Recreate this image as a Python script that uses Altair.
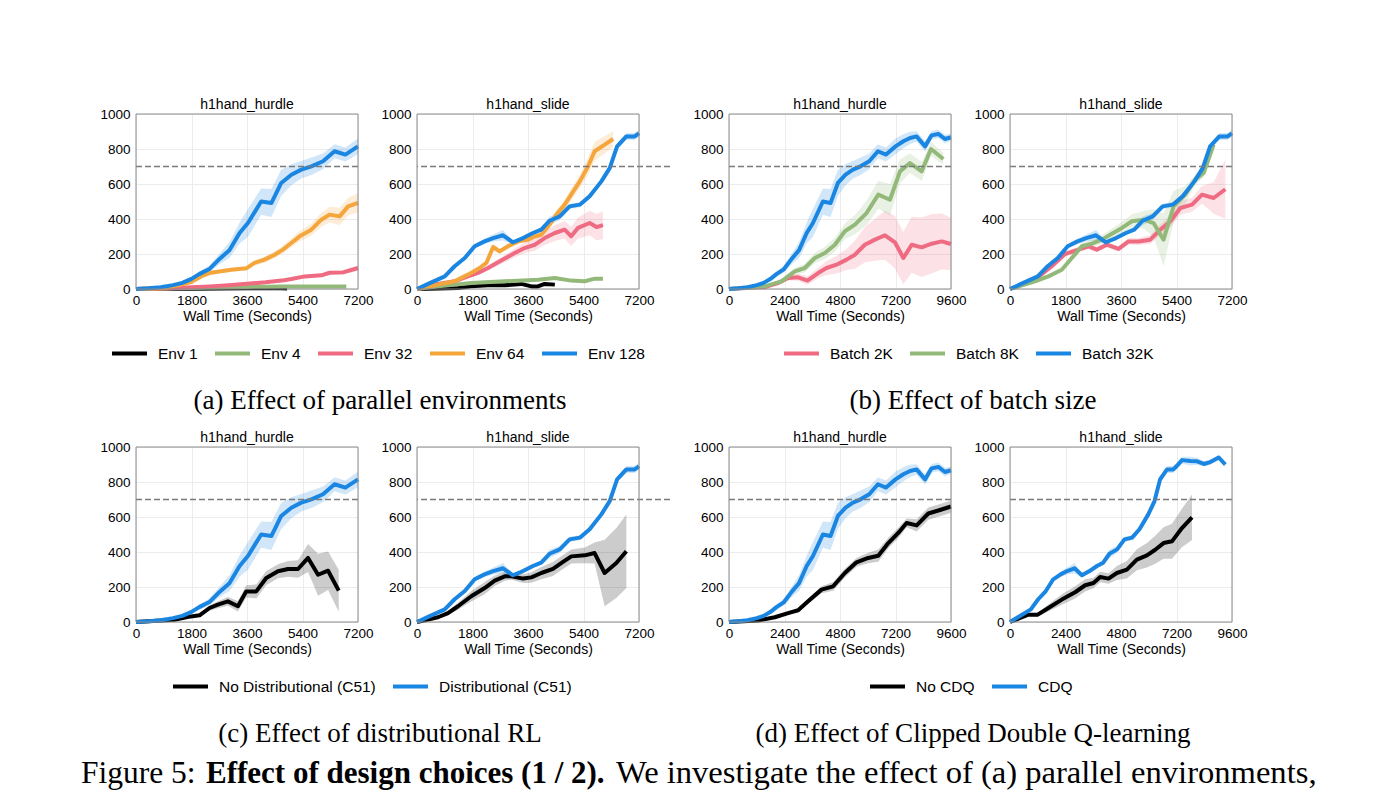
import altair as alt
import pandas as pd

SANS = "Liberation Sans"
SERIF = "Liberation Serif"

BLACK = "#000000"
GREEN = "#92b97a"
PINK = "#ee6b81"
ORANGE = "#f4a63d"
BLUE = "#1a86e2"
FRAME = "#8a8a8a"

# ---- h1hand_hurdle, default run (Env 128 / Batch 32K / Distributional / CDQ)
HURDLE_BASE_X = [0, 400, 800, 1200, 1500, 1800, 2050, 2380, 2710, 3030, 3360, 3630, 4060, 4390, 4710,
                 5040, 5360, 5690, 6065, 6440, 6790, 7200, 7540, 7830, 8110, 8480, 8760, 9050, 9340, 9600]
HURDLE_BASE_Y = [0, 4, 10, 22, 35, 58, 85, 114, 172, 222, 320, 377, 500, 491, 606,
                 653, 682, 701, 730, 787, 768, 815, 844, 863, 872, 815, 878, 886, 857, 867]
HURDLE_BASE_HW = [0, 1, 2, 4, 6, 10, 15, 20, 30, 45, 60, 80, 75, 80, 75,
                  60, 50, 50, 45, 40, 40, 45, 40, 35, 30, 30, 25, 25, 25, 20]

# ---- h1hand_slide, default run
SLIDE_BASE_X = [0, 360, 900, 1220, 1550, 1870, 2190, 2470, 2790, 3110, 3440, 3760, 4030, 4300, 4630, 4950,
                5280, 5600, 5980, 6250, 6490, 6790, 7060, 7200, 7440, 7800, 8090, 8380, 8660, 9030, 9310]
SLIDE_BASE_Y = [0, 29, 72, 130, 177, 244, 272, 291, 307, 267, 291, 320, 339, 390, 415, 472,
                482, 530, 615, 691, 815, 872, 872, 890, 925, 920, 918, 903, 914, 940, 900]
SLIDE_BASE_HW = [0, 5, 8, 10, 10, 12, 15, 20, 30, 10, 10, 12, 12, 25, 20, 15,
                 15, 15, 15, 15, 15, 20, 20, 20, 20, 25, 20, 15, 15, 15, 15]

# ---- (a) parallel environments
ENV64_HURDLE_X = [0, 920, 1460, 1790, 2110, 2380, 2760, 3090, 3575, 3845, 4170, 4495, 4765, 5036, 5307,
                  5686, 6010, 6280, 6605, 6880, 7200]
ENV64_HURDLE_Y = [0, 6, 25, 40, 72, 91, 101, 110, 118, 149, 168, 196, 225, 263, 301,
                  339, 396, 425, 415, 472, 492]
ENV64_HURDLE_HW = [0, 2, 4, 5, 8, 10, 10, 12, 12, 15, 18, 20, 22, 25, 30, 35, 40, 45, 50, 50, 55]

ENV32_HURDLE_X = [0, 900, 1800, 2400, 3000, 3600, 4200, 4800, 5040, 5470, 6010, 6280, 6715, 7200]
ENV32_HURDLE_Y = [0, 3, 10, 15, 22, 30, 38, 50, 57, 72, 78, 93, 95, 120]
ENV32_HURDLE_HW = [0, 2, 3, 4, 5, 6, 7, 8, 8, 9, 10, 12, 12, 15]

ENV4_HURDLE_X = [0, 600, 1200, 1800, 2400, 3000, 3600, 4200, 4800, 5400, 6000, 6600, 6820]
ENV4_HURDLE_Y = [0, 2, 4, 6, 8, 10, 12, 13, 14, 14, 14, 14, 14]
ENV4_HURDLE_HW = [0, 1, 2, 2, 3, 3, 4, 4, 4, 4, 4, 4, 4]

ENV1_HURDLE_X = [0, 900, 1800, 2700, 3600, 4500, 4900]
ENV1_HURDLE_Y = [0, 1, 2, 3, 4, 5, 3]
ENV1_HURDLE_HW = [0, 1, 1, 1, 1, 1, 1]

ENV64_SLIDE_X = [0, 680, 1220, 1650, 2030, 2250, 2470, 2680, 2950, 3280, 3600, 3820, 4030, 4300, 4520,
                 4790, 5000, 5280, 5550, 5760, 6090, 6360]
ENV64_SLIDE_Y = [0, 25, 44, 82, 120, 149, 240, 215, 244, 272, 282, 301, 310, 368, 425,
                 482, 539, 615, 701, 787, 825, 857]
ENV64_SLIDE_HW = [0, 5, 8, 10, 12, 15, 20, 15, 15, 15, 15, 15, 15, 20, 25, 30, 35, 40, 50, 55, 50, 45]

ENV32_SLIDE_X = [0, 680, 1220, 1650, 1980, 2300, 2790, 3170, 3490, 3820, 4140, 4470, 4790, 5000, 5220,
                 5600, 5820, 6030]
ENV32_SLIDE_Y = [0, 29, 44, 72, 92, 120, 168, 206, 234, 253, 291, 320, 339, 301, 349, 377, 354, 365]
ENV32_SLIDE_HW = [0, 5, 8, 10, 12, 15, 20, 25, 30, 35, 40, 45, 50, 55, 60, 70, 75, 80]

ENV4_SLIDE_X = [0, 680, 1760, 2840, 3920, 4470, 5000, 5440, 5760, 6030]
ENV4_SLIDE_Y = [0, 15, 34, 44, 53, 63, 48, 44, 59, 59]
ENV4_SLIDE_HW = [0, 4, 5, 6, 6, 7, 7, 7, 8, 8]

ENV1_SLIDE_X = [0, 700, 1330, 1760, 2300, 2840, 3380, 3710, 3920, 4140, 4470]
ENV1_SLIDE_Y = [0, 3, 6, 15, 21, 21, 29, 15, 15, 29, 25]
ENV1_SLIDE_HW = [0, 2, 3, 4, 4, 4, 5, 5, 5, 5, 5]

# ---- (b) batch size
B8K_HURDLE_X = [0, 1545, 2270, 2845, 3280, 3710, 4145, 4580, 5010, 5445, 5950, 6455, 6960, 7395, 7825,
                8330, 8735, 9270]
B8K_HURDLE_Y = [0, 15, 44, 101, 120, 177, 206, 253, 330, 368, 434, 539, 510, 672, 720, 672, 800, 743]
B8K_HURDLE_HW = [0, 5, 15, 20, 25, 30, 35, 40, 45, 55, 70, 80, 90, 70, 55, 55, 40, 35]

B2K_HURDLE_X = [0, 1545, 2125, 2555, 2990, 3395, 3855, 4215, 4650, 5085, 5445, 5875, 6310, 6745, 7175,
                7540, 7900, 8330, 8765, 9200, 9600]
B2K_HURDLE_Y = [0, 11, 34, 63, 67, 48, 91, 120, 139, 168, 196, 253, 282, 307, 267, 177, 253, 238, 259,
                272, 257]
B2K_HURDLE_HW = [0, 5, 10, 15, 20, 25, 30, 40, 50, 60, 80, 100, 120, 140, 150, 150, 160, 170, 170, 160, 150]

B8K_SLIDE_X = [0, 810, 1245, 1680, 2005, 2330, 2655, 2980, 3305, 3630, 3955, 4330, 4655, 4980, 5305,
               5685, 6010, 6280, 6605]
B8K_SLIDE_Y = [0, 44, 72, 110, 177, 244, 259, 282, 316, 349, 387, 396, 377, 282, 472, 539, 625, 663, 825]
B8K_SLIDE_HW = [0, 8, 10, 12, 15, 20, 20, 25, 30, 35, 40, 50, 80, 150, 90, 50, 30, 25, 20]

B2K_SLIDE_X = [0, 810, 1355, 1785, 2220, 2545, 2815, 3140, 3520, 3845, 4170, 4550, 4875, 5200, 5525,
               5905, 6225, 6605, 6985]
B2K_SLIDE_Y = [0, 53, 130, 200, 225, 244, 225, 253, 229, 272, 272, 282, 339, 387, 463, 482, 539, 520, 570]
B2K_SLIDE_HW = [0, 8, 10, 12, 15, 15, 15, 15, 15, 18, 20, 25, 30, 35, 40, 40, 50, 90, 170]

# ---- (c) distributional RL
NODIST_HURDLE_X = [0, 1245, 1785, 2060, 2385, 2655, 2980, 3305, 3575, 3900, 4225, 4605, 4930, 5255, 5580,
                   5905, 6230, 6575]
NODIST_HURDLE_Y = [0, 13, 32, 38, 80, 99, 118, 90, 175, 175, 251, 290, 303, 303, 366, 270, 293, 179]
NODIST_HURDLE_HW = [0, 3, 5, 8, 15, 20, 25, 30, 35, 40, 40, 40, 45, 50, 80, 120, 110, 120]

NODIST_SLIDE_X = [0, 680, 1005, 1330, 1760, 2195, 2520, 2845, 3060, 3440, 3710, 4030, 4410, 4735, 5005,
                  5440, 5760, 6085, 6465, 6790]
NODIST_SLIDE_Y = [0, 27, 51, 90, 147, 194, 236, 261, 261, 248, 255, 280, 303, 343, 375, 381, 394, 280,
                  337, 404]
NODIST_SLIDE_HW = [0, 8, 12, 20, 30, 35, 30, 25, 20, 25, 30, 35, 40, 40, 40, 45, 60, 190, 200, 210]

# ---- (d) clipped double Q-learning
NOCDQ_HURDLE_X = [0, 1255, 1980, 2555, 2990, 3420, 4000, 4505, 5010, 5515, 6020, 6455, 6890, 7320, 7680,
                  8115, 8620, 9125, 9600]
NOCDQ_HURDLE_Y = [0, 8, 27, 51, 67, 118, 185, 204, 280, 341, 366, 379, 451, 509, 566, 552, 620, 640, 660]
NOCDQ_HURDLE_HW = [0, 3, 5, 8, 10, 15, 20, 25, 25, 25, 30, 35, 30, 30, 25, 35, 35, 35, 35]

NOCDQ_SLIDE_X = [0, 795, 1200, 1660, 2240, 2815, 3250, 3610, 3900, 4260, 4620, 5055, 5485, 5920, 6280,
                 6640, 7005, 7435, 7870]
NOCDQ_SLIDE_Y = [0, 42, 42, 80, 128, 170, 210, 223, 257, 248, 280, 299, 356, 381, 413, 451, 461, 537, 598]
NOCDQ_SLIDE_HW = [0, 8, 10, 20, 30, 35, 35, 30, 30, 30, 40, 50, 60, 70, 80, 90, 100, 110, 130]

Y_TICKS = [0, 200, 400, 600, 800, 1000]
Y_MAX = 1000
THRESHOLD = [700]

CAPTIONS = ["(a) Effect of parallel environments", "(b) Effect of batch size",
            "(c) Effect of distributional RL", "(d) Effect of Clipped Double Q-learning"]
FIGURE_CAPTION = ["Figure 5:", "Effect of design choices (1 / 2).",
                  "We investigate the effect of (a) parallel environments,"]

PLOT_W = 222
PLOT_H = 175


def series_frame(name, xs, ys, hws, xmax):
    rows = [(x, y, max(0, y - h), min(Y_MAX, y + h)) for x, y, h in zip(xs, ys, hws) if x <= xmax]
    df = pd.DataFrame(rows, columns=["x", "y", "lo", "hi"])
    df["series"] = name
    return df


def text_layer(text, x, y, size, weight="normal", align="center"):
    return alt.Chart(pd.DataFrame({"t": [text]})).mark_text(
        font=SERIF, fontSize=size, fontWeight=weight, align=align, baseline="alphabetic",
        color="black",
    ).encode(x=alt.value(x), y=alt.value(y), text="t:N")


def panel(task, entries, xmax, xstep, names, colors, legend=None, extra=(), view_w=PLOT_W):
    cscale = alt.Scale(domain=names, range=colors)
    shade = dict(zip(names, colors))
    yscale = alt.Scale(domain=[0, Y_MAX], nice=False)
    yaxis = alt.Axis(values=Y_TICKS, title=None, format="d")
    xscale = alt.Scale(domain=[0, xmax], nice=False, range=[0, PLOT_W])
    xaxis = alt.Axis(values=list(range(0, xmax + 1, xstep)), format="d", title="Wall Time (Seconds)")
    frames = [series_frame(n, *d, xmax) for n, d in entries]
    # confidence bands, one layer per run, filled with the run's own colour
    bands = [
        alt.Chart(df).mark_area(fill=shade[n], fillOpacity=0.2).encode(
            x=alt.X("x:Q", scale=xscale, axis=xaxis),
            y=alt.Y("lo:Q", scale=yscale, axis=yaxis),
            y2="hi:Q",
        )
        for (n, _), df in zip(entries, frames)
    ]
    lines = [
        alt.Chart(df).mark_line(strokeWidth=4, strokeJoin="round").encode(
            x=alt.X("x:Q", scale=xscale, axis=xaxis),
            y=alt.Y("y:Q", scale=yscale, axis=yaxis),
            color=alt.Color("series:N", scale=cscale, legend=legend),
        )
        for df in frames
    ]
    rule = alt.Chart(pd.DataFrame({"v": THRESHOLD})).mark_rule(
        color="#7a7a7a", strokeDash=[6, 3], strokeWidth=1.5
    ).encode(y=alt.Y("v:Q", scale=yscale, axis=yaxis))
    # plot frame drawn on the data extent
    box = pd.DataFrame({"x": [0, 0, 0, xmax], "x2": [xmax, xmax, 0, xmax],
                        "y": [0, Y_MAX, 0, 0], "y2": [0, Y_MAX, Y_MAX, Y_MAX]})
    frame = alt.Chart(box).mark_rule(color=FRAME, strokeWidth=1).encode(
        x=alt.X("x:Q", scale=xscale, axis=xaxis), x2="x2:Q",
        y=alt.Y("y:Q", scale=yscale, axis=yaxis), y2="y2:Q",
    )
    return alt.layer(*bands, *lines, rule, frame, *extra).properties(
        width=view_w, height=PLOT_H,
        title=alt.TitleParams(task, font=SANS, fontSize=14, fontWeight="normal", offset=-5,
                              color="black", dx=(PLOT_W - view_w) / 2),
    )


def legend_at(x, y):
    return alt.Legend(orient="none", legendX=x, legendY=y, direction="horizontal", title=None,
                      symbolType="stroke", symbolSize=1225, symbolStrokeWidth=4,
                      labelFont=SANS, labelFontSize=15.5, labelColor="black",
                      labelOffset=9, columnPadding=9, padding=0, symbolOpacity=1)


CAP_X = 244
CAP_Y = 295
FIG_Y = 336
LEG_Y = 220
WIDE = PLOT_W + 31  # second column carries the wider gap between the two figure halves

# (a) parallel environments
env_names = ["Env 1", "Env 4", "Env 32", "Env 64", "Env 128"]
env_colors = [BLACK, GREEN, PINK, ORANGE, BLUE]
a1 = panel("h1hand_hurdle", [
    ("Env 1", (ENV1_HURDLE_X, ENV1_HURDLE_Y, ENV1_HURDLE_HW)),
    ("Env 4", (ENV4_HURDLE_X, ENV4_HURDLE_Y, ENV4_HURDLE_HW)),
    ("Env 32", (ENV32_HURDLE_X, ENV32_HURDLE_Y, ENV32_HURDLE_HW)),
    ("Env 64", (ENV64_HURDLE_X, ENV64_HURDLE_Y, ENV64_HURDLE_HW)),
    ("Env 128", (HURDLE_BASE_X, HURDLE_BASE_Y, HURDLE_BASE_HW)),
], 7200, 1800, env_names, env_colors, legend_at(-26, LEG_Y),
    extra=[text_layer(CAPTIONS[0], CAP_X, CAP_Y, 27)])
a2 = panel("h1hand_slide", [
    ("Env 1", (ENV1_SLIDE_X, ENV1_SLIDE_Y, ENV1_SLIDE_HW)),
    ("Env 4", (ENV4_SLIDE_X, ENV4_SLIDE_Y, ENV4_SLIDE_HW)),
    ("Env 32", (ENV32_SLIDE_X, ENV32_SLIDE_Y, ENV32_SLIDE_HW)),
    ("Env 64", (ENV64_SLIDE_X, ENV64_SLIDE_Y, ENV64_SLIDE_HW)),
    ("Env 128", (SLIDE_BASE_X, SLIDE_BASE_Y, SLIDE_BASE_HW)),
], 7200, 1800, env_names, env_colors, view_w=WIDE)

# (b) batch size
batch_names = ["Batch 2K", "Batch 8K", "Batch 32K"]
batch_colors = [PINK, GREEN, BLUE]
b1 = panel("h1hand_hurdle", [
    ("Batch 2K", (B2K_HURDLE_X, B2K_HURDLE_Y, B2K_HURDLE_HW)),
    ("Batch 8K", (B8K_HURDLE_X, B8K_HURDLE_Y, B8K_HURDLE_HW)),
    ("Batch 32K", (HURDLE_BASE_X, HURDLE_BASE_Y, HURDLE_BASE_HW)),
], 9600, 2400, batch_names, batch_colors, legend_at(53, LEG_Y),
    extra=[text_layer(CAPTIONS[1], CAP_X, CAP_Y, 27)])
b2 = panel("h1hand_slide", [
    ("Batch 2K", (B2K_SLIDE_X, B2K_SLIDE_Y, B2K_SLIDE_HW)),
    ("Batch 8K", (B8K_SLIDE_X, B8K_SLIDE_Y, B8K_SLIDE_HW)),
    ("Batch 32K", (SLIDE_BASE_X, SLIDE_BASE_Y, SLIDE_BASE_HW)),
], 7200, 1800, batch_names, batch_colors)

# (c) distributional RL, plus the figure caption line below it
dist_names = ["No Distributional (C51)", "Distributional (C51)"]
dist_colors = [BLACK, BLUE]
c1 = panel("h1hand_hurdle", [
    ("No Distributional (C51)", (NODIST_HURDLE_X, NODIST_HURDLE_Y, NODIST_HURDLE_HW)),
    ("Distributional (C51)", (HURDLE_BASE_X, HURDLE_BASE_Y, HURDLE_BASE_HW)),
], 7200, 1800, dist_names, dist_colors, legend_at(35, LEG_Y),
    extra=[
        text_layer(CAPTIONS[2], CAP_X, CAP_Y, 27),
        text_layer(FIGURE_CAPTION[0], -55, FIG_Y, 31.5, align="left"),
        text_layer(FIGURE_CAPTION[1], 70, FIG_Y, 31, weight="bold", align="left"),
        text_layer(FIGURE_CAPTION[2], 480, FIG_Y, 32.6, align="left"),
    ])
c2 = panel("h1hand_slide", [
    ("No Distributional (C51)", (NODIST_SLIDE_X, NODIST_SLIDE_Y, NODIST_SLIDE_HW)),
    ("Distributional (C51)", (SLIDE_BASE_X, SLIDE_BASE_Y, SLIDE_BASE_HW)),
], 7200, 1800, dist_names, dist_colors, view_w=WIDE)

# (d) clipped double Q-learning
cdq_names = ["No CDQ", "CDQ"]
cdq_colors = [BLACK, BLUE]
d1 = panel("h1hand_hurdle", [
    ("No CDQ", (NOCDQ_HURDLE_X, NOCDQ_HURDLE_Y, NOCDQ_HURDLE_HW)),
    ("CDQ", (HURDLE_BASE_X, HURDLE_BASE_Y, HURDLE_BASE_HW)),
], 9600, 2400, cdq_names, cdq_colors, legend_at(139, LEG_Y),
    extra=[text_layer(CAPTIONS[3], CAP_X, CAP_Y, 27)])
d2 = panel("h1hand_slide", [
    ("No CDQ", (NOCDQ_SLIDE_X, NOCDQ_SLIDE_Y, NOCDQ_SLIDE_HW)),
    ("CDQ", (SLIDE_BASE_X, SLIDE_BASE_Y, SLIDE_BASE_HW)),
], 9600, 2400, cdq_names, cdq_colors)

chart = alt.concat(
    a1, a2, b1, b2, c1, c2, d1, d2,
    columns=4, spacing={"row": 158, "column": 59}, bounds="flush",
).resolve_scale(
    x="independent", y="independent", color="independent"
).properties(
    padding={"left": 80, "top": 97, "right": 10, "bottom": 10},
    background="white",
).configure_view(
    stroke="transparent"
).configure_axis(
    labelFont=SANS, labelFontSize=13.5, labelColor="black",
    titleFont=SANS, titleFontSize=14, titleFontWeight="normal", titleColor="black",
    domain=False, ticks=False, tickSize=0, grid=True, gridColor="#ececec",
    labelPadding=4, titlePadding=3, labelFlush=False,
).configure_axisY(labelPadding=6)

chart.save("out.html", embed_options={"renderer": "svg", "actions": False})
